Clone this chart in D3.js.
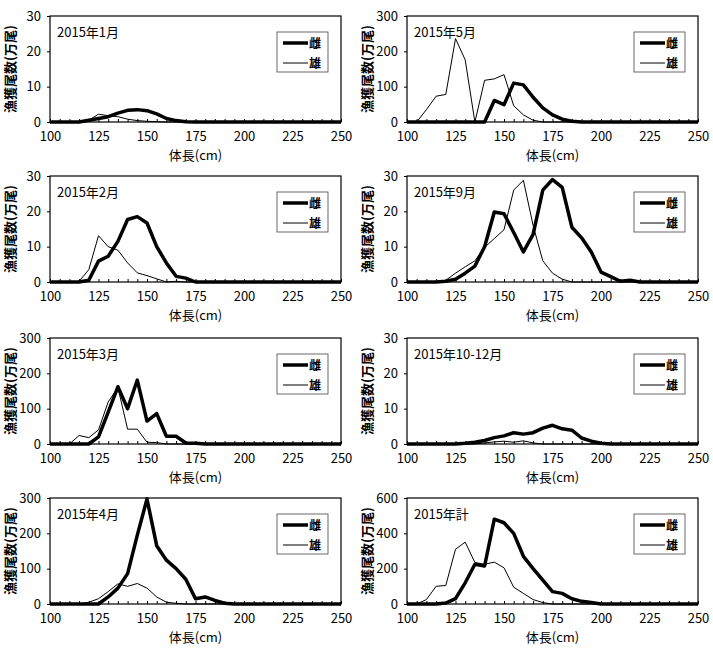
<!DOCTYPE html>
<html><head><meta charset="utf-8">
<script src="https://cdnjs.cloudflare.com/ajax/libs/d3/7.8.5/d3.min.js"></script>
<style>
body{margin:0;background:#fff;}
text{font-family:"Noto Sans CJK JP","Noto Sans",sans-serif;fill:#000;}
</style></head><body>
<script>
const lengths = [100,105,110,115,120,125,130,135,140,145,150,155,160,165,170,175,180,185,190,195,200,205,210,215,220,225,230,235,240,245,250];
const xTicks = [100,125,150,175,200,225,250];
const legendLabels = ["雌","雄"];
const yLabel = "漁獲尾数(万尾)";
const xLabel = "体長(cm)";

const titles = ["2015年1月","2015年5月","2015年2月","2015年9月","2015年3月","2015年10-12月","2015年4月","2015年計"];
const yMaxes = [30,300,30,30,300,30,300,600];
const yTickSets = [[0,10,20,30],[0,100,200,300],[0,10,20,30],[0,10,20,30],[0,100,200,300],[0,10,20,30],[0,100,200,300],[0,200,400,600]];

const janF = [0,0,0,0,0.5,1,1.5,2.5,3.3,3.5,3.2,2.3,1,0.4,0.1,0,0,0,0,0,0,0,0,0,0,0,0,0,0,0,0];
const janM = [0,0,0,0,0.5,2.2,1.8,1.5,0.8,0.4,0.2,0.1,0,0,0,0,0,0,0,0,0,0,0,0,0,0,0,0,0,0,0];
const febF = [0,0,0,0,0.5,5.9,7.3,11.5,17.7,18.5,16.7,10,5.4,1.6,1.1,0,0,0,0,0,0,0,0,0,0,0,0,0,0,0,0];
const febM = [0,0,0,0.2,3.5,13.1,10,9,5.4,2.6,1.8,0.9,0,0.2,0,0,0,0,0,0,0,0,0,0,0,0,0,0,0,0,0];
const marF = [0,0,0,0,0,20,90,162,100,181,65,86,22,22,3,2,0,0,0,0,0,0,0,0,0,0,0,0,0,0,0];
const marM = [0,0,0,24,18,40,119,160,42,42,5,4,0,0,0,0,0,0,0,0,0,0,0,0,0,0,0,0,0,0,0];
const aprF = [0,0,0,0,0,0,20,45,86,195,297,165,124,100,70,15,20,10,2,0,0,0,0,0,0,0,0,0,0,0,0];
const aprM = [0,0,0,0,5,15,35,57,50,58,45,20,5,2,0,0,0,0,0,0,0,0,0,0,0,0,0,0,0,0,0];
const mayF = [0,0,0,0,0,0,0,0,0,61,49,110,105,70,40,20,8,2,0,0,0,0,0,0,0,0,0,0,0,0,0];
const mayM = [0,0,35,73,78,236,176,0,118,122,134,46,20,5,0,0,0,0,0,0,0,0,0,0,0,0,0,0,0,0,0];
const sepF = [0,0,0,0,0.2,0.8,2.5,4.5,10,19.8,19.3,14,8.5,13.5,26,29,26.8,15.5,12.5,8.5,2.8,1.5,0.2,0.5,0,0,0,0,0,0,0];
const sepM = [0,0,0,0,0.5,2.5,4.3,6,9.8,12.3,14.8,26,28.8,16,6,2.5,0.8,0,0,0,0,0,0,0,0,0,0,0,0,0,0];
const octF = [0,0,0,0,0,0,0.2,0.5,1,1.8,2.3,3.2,2.8,3.2,4.5,5.3,4.3,3.9,1.7,0.8,0.2,0,0,0,0,0,0,0,0,0,0];
const octM = [0,0,0,0,0,0,0,0,0.3,0.6,0.8,0.5,0.9,0.3,0,0,0,0,0,0,0,0,0,0,0,0,0,0,0,0,0];
const totF = [0,0,0,0,5,30,120,225,215,480,460,400,270,200,135,70,60,30,15,8,0,0,0,0,0,0,0,0,0,0,0];
const totM = [0,0,25,100,105,310,350,235,225,237,205,95,60,25,8,0,0,0,0,0,0,0,0,0,0,0,0,0,0,0,0];

const femaleSeries = [janF,mayF,febF,sepF,marF,octF,aprF,totF];
const maleSeries = [janM,mayM,febM,sepM,marM,octM,aprM,totM];

const W = 713, H = 651;
const svg = d3.select("body").append("svg").attr("width",W).attr("height",H);
const colX = [50,407], plotW = 291;
const rowY = [16,176,338,498], plotH = 106;

titles.forEach((t,i)=>{
  const col = i%2, row = Math.floor(i/2);
  const L = colX[col], T = rowY[row];
  const g = svg.append("g").attr("transform",`translate(${L},${T})`);
  const x = d3.scaleLinear().domain([100,250]).range([0,plotW]);
  const y = d3.scaleLinear().domain([0,yMaxes[i]]).range([plotH,0]);

  g.append("g").attr("transform",`translate(0,${plotH})`)
    .call(d3.axisBottom(x).tickValues(lengths).tickSize(-3).tickFormat(""))
    .call(a=>a.select(".domain").remove())
    .call(a=>a.selectAll("line").attr("stroke","#000"));
  g.append("g").attr("transform",`translate(0,${plotH})`)
    .call(d3.axisBottom(x).tickValues(xTicks).tickSize(0).tickPadding(10))
    .call(a=>a.select(".domain").remove())
    .call(a=>a.selectAll("text").style("font-size","13px").attr("font-family","Noto Sans CJK JP"));
  g.append("g")
    .call(d3.axisLeft(y).tickValues(yTickSets[i]).tickSize(3).tickPadding(6))
    .call(a=>a.select(".domain").remove())
    .call(a=>a.selectAll("line").attr("stroke","#000"))
    .call(a=>a.selectAll("text").style("font-size","13px").attr("font-family","Noto Sans CJK JP"));

  const line = d3.line().x((d,k)=>x(lengths[k])).y(d=>y(d));
  g.append("path").datum(maleSeries[i]).attr("d",line).attr("fill","none").attr("stroke","#000").attr("stroke-width",1);
  g.append("path").datum(femaleSeries[i]).attr("d",line).attr("fill","none").attr("stroke","#000").attr("stroke-width",3.5).attr("stroke-linejoin","round");

  g.append("rect").attr("x",0).attr("y",0).attr("width",plotW).attr("height",plotH)
    .attr("fill","none").attr("stroke","#000").attr("stroke-width",1.2);

  g.append("text").attr("x",7).attr("y",21).style("font-size","13px").text(t);

  const lg = g.append("g").attr("transform",`translate(${plotW-64},16)`);
  lg.append("rect").attr("x",0).attr("y",0).attr("width",51).attr("height",40).attr("fill","#fff").attr("stroke","#444").attr("stroke-width",0.8);
  legendLabels.forEach((lab,k)=>{
    const yy = 11 + k*20;
    lg.append("line").attr("x1",6).attr("x2",31).attr("y1",yy).attr("y2",yy).attr("stroke","#000").attr("stroke-width",k===0?3.5:1);
    lg.append("text").attr("x",32).attr("y",yy+4.5).style("font-size","12px").style("font-weight","bold").text(lab);
  });

  g.append("text").attr("transform",`translate(${-40},${plotH/2}) rotate(-90)`)
    .attr("text-anchor","middle").attr("dy","0.35em").style("font-size","13px").style("font-weight","bold").text(yLabel);
  g.append("text").attr("x",x(175)).attr("y",plotH+38).attr("text-anchor","middle").style("font-size","13px").text(xLabel);
});
</script>
</body></html>
